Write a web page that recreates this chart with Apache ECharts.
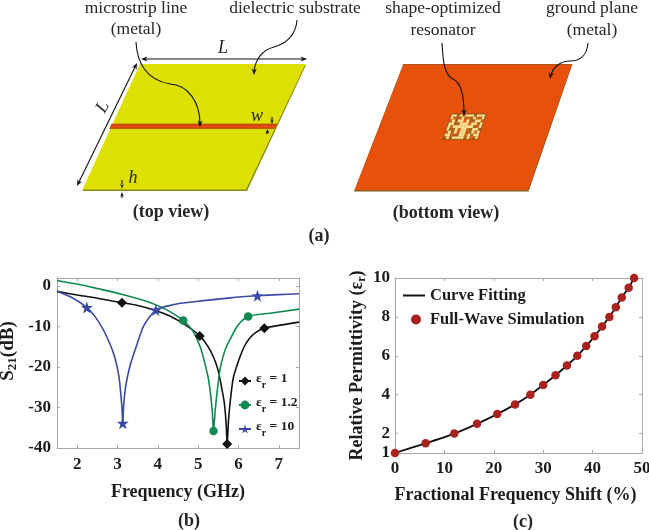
<!DOCTYPE html>
<html>
<head>
<meta charset="utf-8">
<script src="https://cdn.jsdelivr.net/npm/echarts@6/dist/echarts.min.js"></script>
<style>html,body{margin:0;padding:0;background:#fff}#c{width:649px;height:530px}</style>
</head>
<body>
<div id="c"></div>
<script>
// ---- panel (b) values: frequency (GHz), S21 (dB) ----
const blackF = [1.5,2,2.5,3.11,3.5,3.9,4.3,4.7,5.04,5.25,5.4,5.5,5.58,5.65,5.69,5.72,5.75,5.79,5.87,5.95,6.04,6.15,6.28,6.45,6.64,7,7.5];
const blackS = [-1.3,-2.2,-3,-4.1,-4.8,-5.9,-7.4,-9.7,-12.3,-15,-18,-21,-25,-29,-33.5,-39,-33.5,-29,-22.7,-20,-17.4,-14.8,-12.8,-11.3,-10.4,-9.7,-8.9];
const blackMarks = [3,8,15,24];
const greenF = [1.5,2,2.5,3.1,3.6,3.97,4.3,4.63,4.85,5.05,5.15,5.25,5.31,5.35,5.38,5.42,5.46,5.54,5.62,5.7,5.79,5.99,6.24,6.78,7.5];
const greenS = [1.4,0.5,-0.6,-2,-3.4,-4.7,-6.3,-8.5,-10.8,-15,-18.5,-22.7,-27,-31,-35.8,-31,-27,-20.7,-17.3,-15,-13.2,-9.6,-7.5,-6.7,-5.7];
const greenMarks = [7,14,22];
const blueF = [1.5,1.9,2.24,2.45,2.65,2.8,2.9,2.98,3.04,3.08,3.11,3.13,3.15,3.18,3.24,3.33,3.43,3.53,3.64,3.78,3.95,4.05,4.35,4.55,5.12,5.8,6.47,7,7.5];
const blueS = [-1.3,-3,-5.3,-7.6,-10.8,-14,-16.6,-19.5,-22.7,-26.5,-30,-33.9,-30,-26.5,-22.7,-19,-16,-13,-10,-7.8,-5.9,-5.4,-4.7,-4.25,-3.6,-2.9,-2.4,-2.1,-1.9];
const blueMarks = [2,11,20,26];
const xTicksB = [2,3,4,5,6,7];
const yTicksB = [-40,-30,-20,-10,0];

// ---- panel (c) values: fractional frequency shift (%), permittivity ----
const shiftPct = [0,6.2,12,16.6,20.7,24.3,27.4,30,32.5,34.8,36.9,38.7,40.4,41.9,43.4,44.7,45.9,47.3,48.4];
const permit = [1,1.5,2,2.5,3,3.5,4,4.5,5,5.5,6,6.5,7,7.5,8,8.5,9,9.5,10];
const xTicksC = [0,10,20,30,40,50];
const yTicksC = [1,2,4,6,8,10];

// ---- resonator pattern: y = pale metal, o = ground showing, b = brown ----
const resonatorRows = [
  'yybyoyyybyyy',
  'yobbybobyoby',
  'oybyyoybbyyo',
  'yybbyyyoyyby',
  'yoyyyyyyyboy',
  'ybbyoyyobyyb',
  'oybyoyybbyoy',
  'yyobbyyoybyy',
  'bybyyyybyoby'
];

const FONT = '"Liberation Serif"';
const INK = '#1c1c1c';
const FRAME = '#a8a8a8';

function pts(fs, vs, marks){
  return fs.map((f,i)=> marks.includes(i) ? [f,vs[i]] : {value:[f,vs[i]],symbol:'none'});
}
const erRich = {
  t:{fontFamily:FONT,fontWeight:'bold',fontSize:13.5,color:INK,verticalAlign:'top',lineHeight:18},
  s:{fontFamily:FONT,fontWeight:'bold',fontSize:10,color:INK,verticalAlign:'bottom',lineHeight:18}
};
function shear(col,row,cols,rows){ // resonator cell corner
  const u=col/cols, v=row/rows;
  const lx=451.7+(442.7-451.7)*v, rx=486+(477.7-486)*v;
  return [lx+(rx-lx)*u, 114+(139.3-114)*v];
}
const resCells=[];
resonatorRows.forEach((r,j)=>{ [...r].forEach((c,i)=>{
  resCells.push({type:'polygon',z:5,shape:{points:[shear(i,j,12,9),shear(i+1,j,12,9),shear(i+1,j+1,12,9),shear(i,j+1,12,9)]},
    style:{fill:c==='y'?'#f8e596':(c==='o'?'#d9641a':'#a8641e')}});
});});

function txt(s,x,y,opt){
  return {type:'text',z:10,x:x,y:y,style:Object.assign({text:s,fontFamily:FONT,fontSize:17.5,fill:'#262626',align:'center',verticalAlign:'middle'},opt||{})};
}
function bez(x1,y1,a,b,c,d,x2,y2){return {type:'bezierCurve',z:8,shape:{x1,y1,cpx1:a,cpy1:b,cpx2:c,cpy2:d,x2,y2},style:{fill:'none',stroke:'#111',lineWidth:1.1}};}
function head(x,y,ang,s){ // filled arrow head, tip at x,y pointing along ang (radians)
  s=s||6;
  const a=ang+Math.PI, c=Math.cos, n=Math.sin, sp=0.38;
  return {type:'polygon',z:9,shape:{points:[[x,y],[x+s*c(a+sp),y+s*n(a+sp)],[x+0.65*s*c(a),y+0.65*s*n(a)],[x+s*c(a-sp),y+s*n(a-sp)]]},style:{fill:'#111'}};
}
function seg(x1,y1,x2,y2,w){return {type:'line',z:8,shape:{x1,y1,x2,y2},style:{stroke:'#111',lineWidth:w||1.1}};}

const capt={fontWeight:'bold',fontSize:18};
const graphics=[
  // top view board
  {type:'polygon',z:2,shape:{points:[[140,65],[306,65],[247,191],[82.5,191]]},style:{fill:'#8a8a10'}},
  {type:'polygon',z:3,shape:{points:[[140,64],[305.5,64],[246,189.5],[82.5,189.5]]},style:{fill:'#dde000'}},
  {type:'polygon',z:4,shape:{points:[[111.8,124],[277,124],[274.5,128.6],[109.6,128.6]]},style:{fill:'#dc4a0c',stroke:'#9a3a10',lineWidth:0.6}},
  // bottom view board
  {type:'polygon',z:2,shape:{points:[[403.3,64],[572.5,64],[528.5,191.5],[354,191.5]]},style:{fill:'#7d5a1c'}},
  {type:'polygon',z:3,shape:{points:[[403.5,64.5],[572,64.5],[528,190.3],[354.6,190.3]]},style:{fill:'#e8510c'}},
  ...resCells,
  {type:'polygon',z:6,shape:{points:[[451.7,114],[486,114],[477.7,139.3],[442.7,139.3]]},style:{fill:'none',stroke:'#6a4a14',lineWidth:0.7}},
  // dimension arrows
  seg(143,59,305,59), head(141,59,Math.PI,7), head(307,59,0,7),
  seg(136,65,78,184), head(137,63,-1.117,7), head(77,186,2.024,7),
  seg(272,117,272,120), head(272,124,Math.PI/2,5),
  seg(267,134,267,131), head(267.5,129,-Math.PI/2,5),
  seg(122,180,122,184), head(122,188.5,Math.PI/2,5),
  seg(122,198,122,195), head(122,192,-Math.PI/2,5),
  // pointer curves
  bez(136,42,137,62,146,80,170,84), bez(170,84,188,85,200,102,200,124), head(200,127,Math.PI/2,7),
  bez(297,20,296,36,285,44,274,47), bez(274,47,262,50,255,60,254,72), head(254,75,1.6,7),
  bez(442,43,443,60,444,75,453,79), bez(453,79,462,83,464,100,464,113), head(464,116,Math.PI/2,7),
  bez(588,43,587,55,580,61,570,61), bez(570,61,560,61,552,68,551,76), head(550,79,1.75,7),
  // texts
  txt('microstrip line',136,8), txt('(metal)',136,29),
  txt('dielectric substrate',295,8),
  txt('shape-optimized',443,8), txt('resonator',443,30),
  txt('ground plane',592,8), txt('(metal)',592,30),
  txt('L',223,48,{fontStyle:'italic',fontSize:18}),
  {type:'text',z:10,x:103,y:107,rotation:1.05,style:{text:'L',fontFamily:FONT,fontSize:18,fontStyle:'italic',fill:'#262626',align:'center',verticalAlign:'middle'}},
  txt('w',257,116,{fontStyle:'italic',fontSize:18}),
  txt('h',133,178,{fontStyle:'italic',fontSize:18}),
  txt('(top view)',171,212,capt),
  txt('(bottom view)',446,213,capt),
  txt('(a)',319,236,capt),
  txt('(b)',189,521,capt),
  txt('(c)',523,522,capt)
];

function mirrorX(i,min,max,ticks){return {type:'value',gridIndex:i,position:'top',min,max,
  axisLine:{show:true,onZero:false,lineStyle:{color:FRAME}},axisLabel:{show:false},splitLine:{show:false},
  axisTick:{show:true,inside:true,length:3,customValues:ticks,lineStyle:{color:FRAME}}};}
function mirrorY(i,min,max,ticks){return {type:'value',gridIndex:i,position:'right',min,max,
  axisLine:{show:true,onZero:false,lineStyle:{color:FRAME}},axisLabel:{show:false},splitLine:{show:false},
  axisTick:{show:true,inside:true,length:3,customValues:ticks,lineStyle:{color:FRAME}}};}
const tickLabel={fontFamily:FONT,fontWeight:'bold',fontSize:17,color:INK};

const option={
  animation:false,
  backgroundColor:'#fff',
  graphic:graphics,
  grid:[
    {left:57,top:278,width:242,height:170,outerBoundsMode:'none'},
    {left:395,top:278,width:247,height:175,outerBoundsMode:'none'}
  ],
  xAxis:[
    {type:'value',gridIndex:0,min:1.5,max:7.5,
     axisLine:{show:true,onZero:false,lineStyle:{color:FRAME}},splitLine:{show:false},
     axisTick:{show:true,inside:true,length:3,customValues:xTicksB,lineStyle:{color:FRAME}},
     axisLabel:Object.assign({customValues:xTicksB,margin:8},tickLabel),
     name:'Frequency (GHz)',nameLocation:'middle',nameGap:35,
     nameTextStyle:{fontFamily:FONT,fontWeight:'bold',fontSize:18,color:INK}},
    mirrorX(0,1.5,7.5,xTicksB),
    {type:'value',gridIndex:1,min:0,max:50,
     axisLine:{show:true,onZero:false,lineStyle:{color:FRAME}},splitLine:{show:false},
     axisTick:{show:true,inside:true,length:3,customValues:xTicksC,lineStyle:{color:FRAME}},
     axisLabel:Object.assign({customValues:xTicksC,margin:7},tickLabel),
     name:'Fractional Frequency Shift (%)',nameLocation:'middle',nameGap:33,
     nameTextStyle:{fontFamily:FONT,fontWeight:'bold',fontSize:18,color:INK,padding:[0,6,0,0]}},
    mirrorX(1,0,50,xTicksC)
  ],
  yAxis:[
    {type:'value',gridIndex:0,min:-40,max:2,
     axisLine:{show:true,onZero:false,lineStyle:{color:FRAME}},splitLine:{show:false},
     axisTick:{show:true,inside:true,length:3,customValues:yTicksB,lineStyle:{color:FRAME}},
     axisLabel:Object.assign({customValues:yTicksB,margin:6},tickLabel),
     name:'{a|S}{b|21}{a|(dB)}',nameLocation:'middle',nameGap:38,nameRotate:90,
     nameTextStyle:{padding:[0,0,0,24],rich:{
       a:{fontFamily:FONT,fontWeight:'bold',fontSize:19,color:INK,verticalAlign:'top',lineHeight:20},
       b:{fontFamily:FONT,fontWeight:'bold',fontSize:13,color:INK,verticalAlign:'bottom',lineHeight:20}}}},
    mirrorY(0,-40,2,yTicksB),
    {type:'value',gridIndex:1,min:1,max:10,
     axisLine:{show:true,onZero:false,lineStyle:{color:FRAME}},splitLine:{show:false},
     axisTick:{show:true,inside:true,length:3,customValues:yTicksC,lineStyle:{color:FRAME}},
     axisLabel:Object.assign({customValues:yTicksC,margin:5},tickLabel),
     name:'{a|Relative Permittivity (ε}{b|r}{a|)}',nameLocation:'middle',nameGap:27,nameRotate:90,
     nameTextStyle:{rich:{
       a:{fontFamily:FONT,fontWeight:'bold',fontSize:18,color:INK,verticalAlign:'top',lineHeight:20},
       b:{fontFamily:FONT,fontWeight:'bold',fontSize:12,color:INK,verticalAlign:'bottom',lineHeight:20}}}},
    mirrorY(1,1,10,yTicksC)
  ],
  legend:[
    {left:238,top:372,orient:'vertical',itemGap:6,itemWidth:12,itemHeight:11,padding:0,
     data:['b1','b2','b3'],
     formatter:function(n){return {b1:'{t|ε}{s|r}{t| = 1}',b2:'{t|ε}{s|r}{t| = 1.2}',b3:'{t|ε}{s|r}{t| = 10}'}[n];},
     textStyle:{rich:erRich}},
    {left:403,top:287,orient:'vertical',itemGap:7,itemWidth:22,itemHeight:14,padding:0,
     data:[{name:'Curve Fitting',icon:'path://M0 0L0 0ZM22 14L22 14ZM0 6H22V8H0Z'},
           {name:'Full-Wave Simulation',icon:'path://M0 0L0 0ZM22 14L22 14ZM13 2A5 5 0 1 1 13 12A5 5 0 1 1 13 2Z'}],
     textStyle:{fontFamily:FONT,fontWeight:'bold',fontSize:16.5,color:INK}}
  ],
  series:[
    {name:'b1',type:'line',xAxisIndex:0,yAxisIndex:0,data:pts(blackF,blackS,blackMarks),smooth:0.3,symbol:'diamond',symbolSize:10,
     lineStyle:{color:'#111',width:1.6},itemStyle:{color:'#111'}},
    {name:'b2',type:'line',xAxisIndex:0,yAxisIndex:0,data:pts(greenF,greenS,greenMarks),smooth:0.3,symbol:'circle',symbolSize:8.5,
     lineStyle:{color:'#0f8a50',width:1.6},itemStyle:{color:'#0f8a50'}},
    {name:'b3',type:'line',xAxisIndex:0,yAxisIndex:0,data:pts(blueF,blueS,blueMarks),smooth:0.3,symbol:'path://M12 0L15 8.6H24L16.8 14L19.4 23L12 17.6L4.6 23L7.2 14L0 8.6H9Z',symbolSize:12,
     lineStyle:{color:'#3a4aa5',width:1.6},itemStyle:{color:'#3a4aa5'}},
    {name:'Curve Fitting',type:'line',xAxisIndex:2,yAxisIndex:2,data:shiftPct.map((x,i)=>[x,permit[i]]),smooth:0.2,symbol:'none',
     lineStyle:{color:'#111',width:1.8},itemStyle:{color:'#111'}},
    {name:'Full-Wave Simulation',type:'scatter',xAxisIndex:2,yAxisIndex:2,data:shiftPct.map((x,i)=>[x,permit[i]]),symbolSize:8.5,clip:false,
     itemStyle:{color:'#a8231f',opacity:1},z:3}
  ]
};
const chart=echarts.init(document.getElementById('c'),null,{renderer:'canvas'});
chart.setOption(option);
</script>
</body>
</html>
